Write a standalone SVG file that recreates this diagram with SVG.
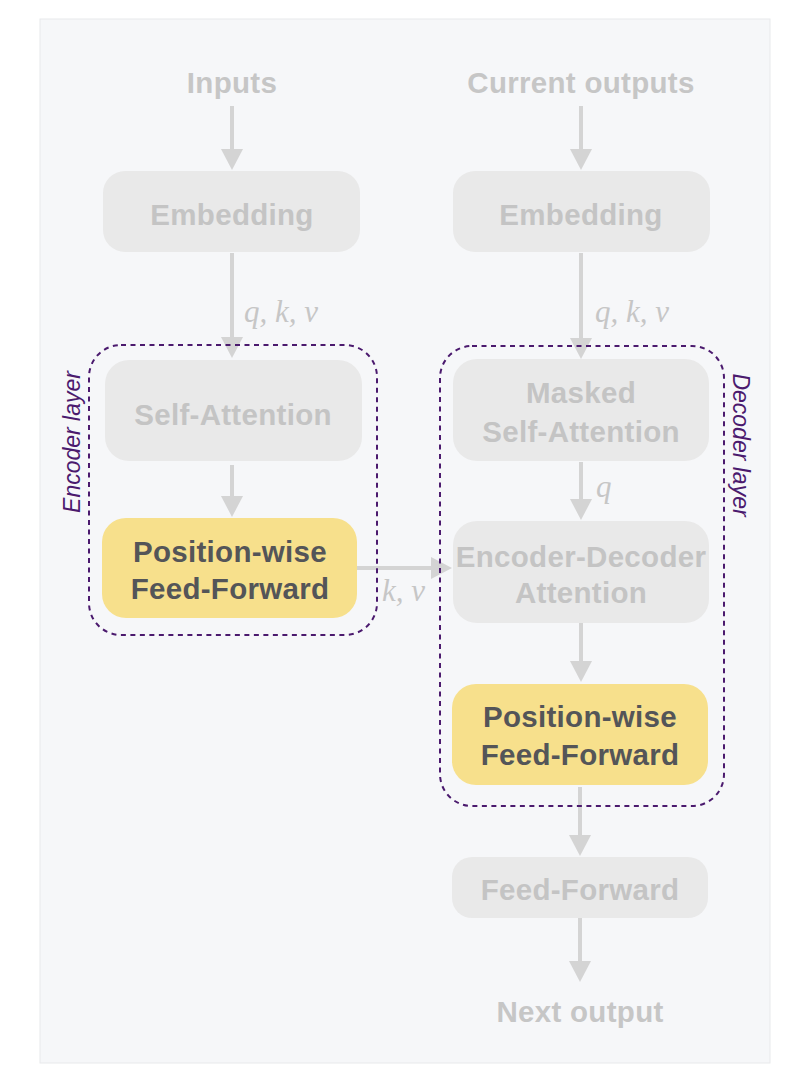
<svg xmlns="http://www.w3.org/2000/svg" width="791" height="1083" viewBox="0 0 791 1083">
<style>
.t{font-family:"Liberation Sans",Arial,sans-serif;font-weight:bold;font-size:29.5px;letter-spacing:0.3px;text-anchor:middle}
.io{fill:#c6c6c6}
.g rect{fill:#e9e9e9}
.g text{fill:#c4c4c4}
.y rect{fill:#f7e08c}
.y text{fill:#545558}
.m{font-family:"Liberation Serif","Times New Roman",serif;font-style:italic;font-size:31px;fill:#c6c6c6}
.c line{stroke:#d4d4d4;stroke-width:4;marker-end:url(#ah)}
.lay{fill:none;stroke:#4b1a6e;stroke-width:2;stroke-dasharray:5 4.5}
.ll{font-family:"Liberation Sans",Arial,sans-serif;font-style:italic;font-size:23px;fill:#4b1a6e;text-anchor:middle}
</style>
<defs>
<marker id="ah" markerUnits="userSpaceOnUse" markerWidth="24" markerHeight="24" refX="11" refY="11" orient="auto">
<path d="M0,0 L21,11 L0,22 z" fill="#d4d4d4"/>
</marker>
</defs>
<rect x="40" y="19" width="730" height="1044" fill="#f6f7f9" stroke="#e8e9eb" stroke-width="1"/>

<g id="connectors" class="c">
<line x1="232" y1="106" x2="232" y2="160"/>
<line x1="232" y1="253" x2="232" y2="348"/>
<line x1="232" y1="465" x2="232" y2="507"/>
<line x1="357" y1="568" x2="442" y2="568"/>
<line x1="581" y1="106" x2="581" y2="160"/>
<line x1="581" y1="253" x2="581" y2="349"/>
<line x1="581" y1="462" x2="581" y2="510"/>
<line x1="581" y1="623" x2="581" y2="672"/>
<line x1="580" y1="787" x2="580" y2="846"/>
<line x1="580" y1="918" x2="580" y2="972"/>
</g>

<g id="inputs"><text class="t io" x="232" y="93">Inputs</text></g>
<g id="current-outputs"><text class="t io" x="581" y="93">Current outputs</text></g>

<g id="enc-embedding" class="g"><rect x="103" y="171" width="257" height="81" rx="22"/><text class="t" x="232" y="225">Embedding</text></g>
<g id="enc-self-attention" class="g"><rect x="105" y="360" width="257" height="101" rx="24"/><text class="t" x="233" y="425">Self-Attention</text></g>
<g id="enc-ffn" class="y"><rect x="102" y="518" width="255" height="100" rx="24"/><text class="t" x="230" y="562">Position-wise</text><text class="t" x="230" y="599">Feed-Forward</text></g>

<g id="dec-embedding" class="g"><rect x="453" y="171" width="257" height="81" rx="22"/><text class="t" x="581" y="225">Embedding</text></g>
<g id="dec-masked" class="g"><rect x="453" y="359" width="256" height="102" rx="24"/><text class="t" x="581" y="403">Masked</text><text class="t" x="581" y="442">Self-Attention</text></g>
<g id="dec-encdec" class="g"><rect x="453" y="521" width="256" height="102" rx="24"/><text class="t" x="581" y="567">Encoder-Decoder</text><text class="t" x="581" y="603">Attention</text></g>
<g id="dec-ffn" class="y"><rect x="452" y="684" width="256" height="101" rx="24"/><text class="t" x="580" y="727">Position-wise</text><text class="t" x="580" y="765">Feed-Forward</text></g>
<g id="feed-forward" class="g"><rect x="452" y="857" width="256" height="61" rx="20"/><text class="t" x="580" y="900">Feed-Forward</text></g>
<g id="next-output"><text class="t io" x="580" y="1022">Next output</text></g>

<g id="encoder-layer"><rect class="lay" x="89" y="345" width="288" height="290" rx="32"/><text class="ll" transform="translate(80,442) rotate(-90)">Encoder layer</text></g>
<g id="decoder-layer"><rect class="lay" x="440" y="346" width="284" height="460" rx="32"/><text class="ll" transform="translate(733,445) rotate(90)">Decoder layer</text></g>

<g id="labels">
<text class="m" x="244" y="322">q, k, v</text>
<text class="m" x="595" y="322">q, k, v</text>
<text class="m" x="596" y="497">q</text>
<text class="m" x="382" y="601">k, v</text>
</g>
</svg>
